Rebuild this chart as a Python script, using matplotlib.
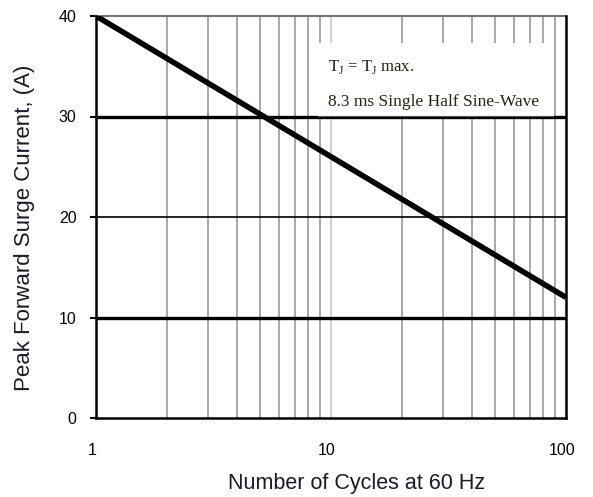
import matplotlib
matplotlib.use("Agg")
import matplotlib.pyplot as plt
import matplotlib.transforms as mtransforms
from matplotlib.patches import Rectangle
import numpy as np

# surge curve (straight on log-x)
cycles = [1, 100]
current = [40, 12]

y_ticks = [0, 10, 20, 30, 40]
x_ticks = [1, 10, 100]
x_minor = [2, 3, 4, 5, 6, 7, 8, 9, 20, 30, 40, 50, 60, 70, 80, 90]

plt.rcParams['font.family'] = ['Liberation Sans', 'DejaVu Sans']

fig = plt.figure(figsize=(5.93, 4.97), dpi=100)
W, H = 593, 497
ax = fig.add_axes([96 / W, 1 - 418 / H, (566 - 96) / W, (418 - 16) / H])

ax.set_xscale('log')
ax.set_xlim(1, 100)
ax.set_ylim(0, 40)

# vertical grid lines
for xv in x_minor:
    ax.axvline(xv, color='#9a9a9a', lw=1.2, zorder=1)
ax.axvline(10, color='#c8c8c8', lw=1.2, zorder=1)

# horizontal grid lines
ax.axhline(10, color='black', lw=2.4, zorder=2)
ax.axhline(20, color='black', lw=1.2, zorder=2)
ax.axhline(30, color='black', lw=2.4, zorder=2)

# white box for the conditions text
box = Rectangle((318 / W, 1 - 116 / H), (553 - 318) / W, (116 - 43) / H,
                transform=fig.transFigure, facecolor='white',
                edgecolor='none', zorder=3)
ax.add_patch(box)
ax.plot([318 / W, 553 / W], [1 - 116 / H, 1 - 116 / H], transform=fig.transFigure,
        color='#555555', lw=0.8, zorder=3)

ax.plot(cycles, current, color='black', lw=4, zorder=4, solid_capstyle='butt')

fig.text(328 / W, 1 - 67 / H, r'T$_\mathregular{J}$ = T$_\mathregular{J}$ max.',
         family='Liberation Serif', fontsize=12, va='center', ha='left', zorder=5,
         color='#2a2010')
fig.text(328 / W, 1 - 102 / H, '8.3 ms Single Half Sine-Wave',
         family='Liberation Serif', fontsize=12.5, va='center', ha='left', zorder=5,
         color='#2a2010')

ax.set_xticks(x_ticks)
ax.set_xticklabels(['1', '10', '100'])
ax.set_xticks([], minor=True)
ax.set_yticks(y_ticks)
ax.tick_params(axis='x', length=0, pad=18, labelsize=11.5)
ax.tick_params(axis='y', length=4, width=1.5, direction='out', pad=10, labelsize=11.5)

shift = mtransforms.ScaledTranslation(-4 / 100, 0, fig.dpi_scale_trans)
for lab in ax.get_xticklabels():
    lab.set_transform(lab.get_transform() + shift)

for s in ['left', 'bottom', 'right']:
    ax.spines[s].set_linewidth(1.8)
    ax.spines[s].set_zorder(6)
ax.spines['top'].set_color('#777777')
ax.spines['top'].set_linewidth(1.5)

fig.text(357 / W, 1 - 483 / H, 'Number of Cycles at 60 Hz', ha='center', va='center',
         fontsize=15.5, color='#1a1a2a')
fig.text(25 / W, 1 - 228 / H, 'Peak Forward Surge Current, (A)', ha='center', va='center',
         rotation=90, fontsize=16, color='#1a1a2a')

fig.savefig('out.png', dpi=100)
